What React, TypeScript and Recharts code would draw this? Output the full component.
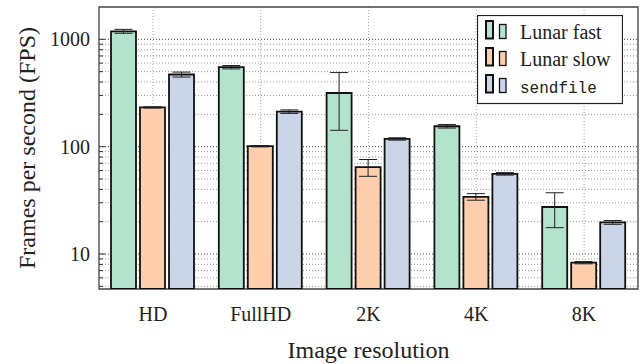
import { BarChart, Bar, XAxis, YAxis, CartesianGrid, ErrorBar, Legend, ReferenceArea } from "recharts"

const categories = ["HD", "FullHD", "2K", "4K", "8K"]
const lunarFast = [1188, 550, 316, 155, 27.4]
const lunarFastErr = [50, 20, 174, 6, 9.8]
const lunarSlow = [232, 101, 64.4, 34.1, 8.3]
const lunarSlowErr = [3, 1.5, 11.5, 2.4, 0.2]
const sendfile = [470, 212, 118, 55.8, 19.7]
const sendfileErr = [25, 8, 3, 1.5, 0.8]

const yMin = 4.72
const yMax = 2000
const majorTicks = [10, 100, 1000]
const minorTicks = [5, 6, 7, 8, 9, 20, 30, 40, 50, 60, 70, 80, 90, 200, 300, 400, 500, 600, 700, 800, 900]
const allTicks = [...minorTicks, ...majorTicks].sort((a, b) => a - b)

const series = [
  { key: "fast", err: "fastErr", name: "Lunar fast", color: "#b3e2cd", mono: false },
  { key: "slow", err: "slowErr", name: "Lunar slow", color: "#fdcdac", mono: false },
  { key: "send", err: "sendErr", name: "sendfile", color: "#cbd5e8", mono: true },
]

const data = categories.map((name, i) => ({
  name,
  fast: lunarFast[i],
  fastErr: lunarFastErr[i],
  slow: lunarSlow[i],
  slowErr: lunarSlowErr[i],
  send: sendfile[i],
  sendErr: sendfileErr[i],
}))

const serif = "'Liberation Serif', 'Times New Roman', serif"
const mono = "'Liberation Mono', 'DejaVu Sans Mono', monospace"

function YTick(props: any) {
  const { x, y, payload } = props
  const major = majorTicks.includes(payload.value)
  return (
    <g>
      <line x1={x + 9} x2={x + 9 + (major ? 6 : 4)} y1={y} y2={y} stroke="#333" strokeWidth={1} />
      {major && (
        <text x={x} y={y} dy="0.35em" textAnchor="end" style={{ fontFamily: serif, fontSize: 20 }} fill="#222">
          {payload.value}
        </text>
      )}
    </g>
  )
}

// grid lines sit on category centres, like pgfplots' xmajorgrids
function centreLines({ offset }: any) {
  const step = offset.width / categories.length
  return categories.map((_, i) => offset.left + step * (i + 0.5))
}

function LegendBox() {
  return (
    <svg width={146} height={90} style={{ display: "block" }}>
      <rect x={0.5} y={0.5} width={145} height={88} fill="#fff" stroke="#222" strokeWidth={1.2} />
      {series.map((s, i) => {
        const top = 6 + i * 27
        return (
          <g key={s.key}>
            <rect x={9} y={top} width={7} height={17.5} fill={s.color} stroke="#111" strokeWidth={2} />
            <rect x={22.5} y={top + 3.5} width={6.5} height={14} fill={s.color} stroke="#111" strokeWidth={1.3} />
            <text
              x={43}
              y={top + 17.5}
              style={{ fontFamily: s.mono ? mono : serif, fontSize: s.mono ? 16 : 20 }}
              fill="#222"
            >
              {s.name}
            </text>
          </g>
        )
      })}
    </svg>
  )
}

export default function App() {
  return (
    <div style={{ position: "absolute", left: 0, top: 0, background: "#fff" }}>
      <BarChart
        width={642}
        height={364}
        data={data}
        margin={{ top: 7, right: 4, bottom: 0, left: 0 }}
        barSize={25}
        barGap={4}
      >
        <CartesianGrid vertical={false} horizontalValues={minorTicks} stroke="#999" strokeDasharray="1 2" />
        <CartesianGrid vertical={false} horizontalValues={majorTicks} stroke="#444" strokeDasharray="1 2" />
        <CartesianGrid horizontal={false} verticalCoordinatesGenerator={centreLines} stroke="#aaa" strokeDasharray="1 2" />
        <XAxis
          dataKey="name"
          height={75}
          tickLine={false}
          axisLine={false}
          tickSize={0}
          tickMargin={18}
          tick={{ fontFamily: serif, fontSize: 20, fill: "#222" }}
          label={{
            value: "Image resolution",
            position: "insideBottom",
            offset: 6,
            style: { fontFamily: serif, fontSize: 24, fill: "#222" },
          }}
        />
        <YAxis
          scale="log"
          domain={[yMin, yMax]}
          allowDataOverflow
          ticks={allTicks}
          interval={0}
          width={99}
          axisLine={false}
          tickLine={false}
          tickSize={0}
          tickMargin={9}
          tick={<YTick />}
          label={{
            value: "Frames per second (FPS)",
            angle: -90,
            position: "insideLeft",
            offset: 26,
            style: { textAnchor: "middle", fontFamily: serif, fontSize: 24, fill: "#222" },
          }}
        />
        {series.map((s) => (
          <Bar
            key={s.key}
            dataKey={s.key}
            name={s.name}
            fill={s.color}
            stroke="#111"
            strokeWidth={1.8}
            isAnimationActive={false}
          >
            <ErrorBar dataKey={s.err} width={9} stroke="#222" strokeWidth={1} />
          </Bar>
        ))}
        <ReferenceArea y1={yMin} y2={yMax} fill="none" stroke="#444" strokeWidth={1.3} ifOverflow="extendDomain" />
        <Legend
          layout="vertical"
          align="center"
          verticalAlign="middle"
          content={() => <LegendBox />}
          wrapperStyle={{ left: 477, top: 15, width: 146, height: 90 }}
        />
      </BarChart>
    </div>
  )
}
